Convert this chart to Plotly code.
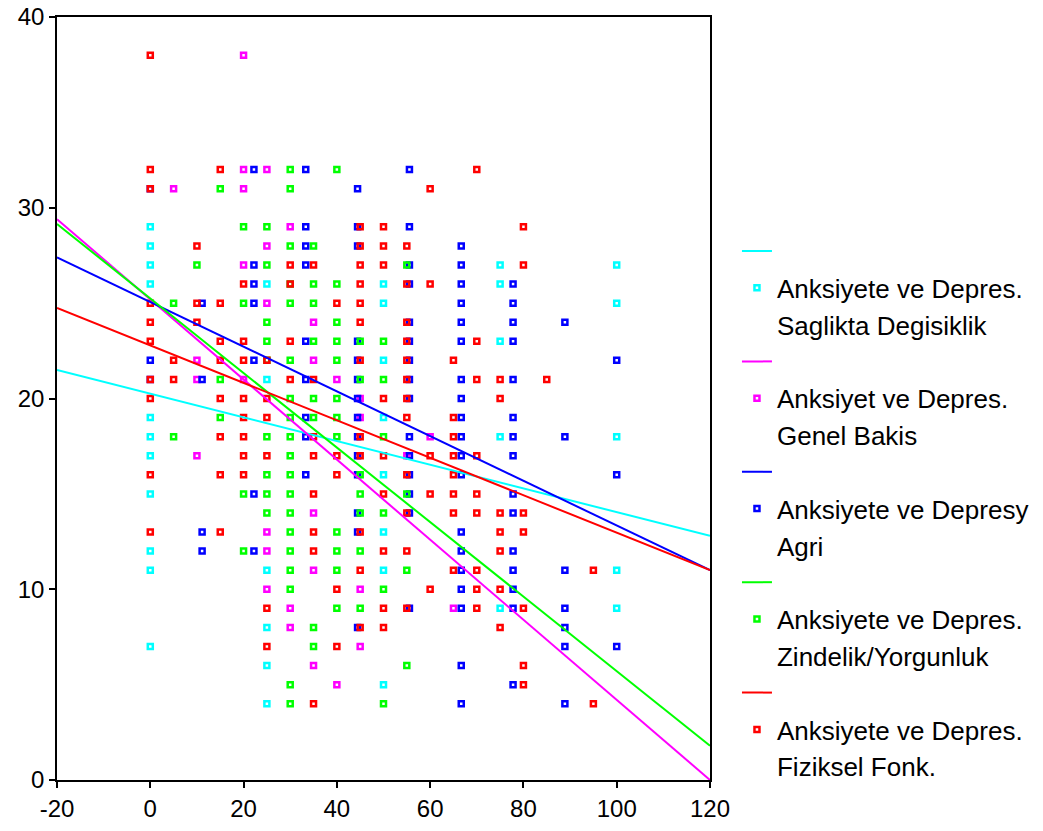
import plotly.graph_objects as go

# ---------------- data ----------------
x_range = [-20, 120]
y_range = [0, 40]
x_ticks = [-20, 0, 20, 40, 60, 80, 100, 120]
x_tick_labels = ["-20", "0", "20", "40", "60", "80", "100", "120"]
y_ticks = [0, 10, 20, 30, 40]
y_tick_labels = ["0", "10", "20", "30", "40"]

series_names_1 = ["Anksiyete ve Depres.", "Anksiyet ve Depres.", "Anksiyete ve Depresy",
                  "Anksiyete ve Depres.", "Anksiyete ve Depres."]
series_names_2 = ["Saglikta Degisiklik", "Genel Bakis", "Agri",
                  "Zindelik/Yorgunluk", "Fiziksel Fonk."]
series_colors = ["#00FFFF", "#FF00FF", "#0000FF", "#00FF00", "#FF0000"]

# points: x value -> list of y values
saglik_points = {
    0: [7, 11, 12, 15, 17, 18, 19, 26, 27, 28, 29],
    25: [4, 6, 8, 11, 21, 26],
    50: [5, 11, 13, 16, 19, 22, 25, 26],
    75: [9, 18, 23, 26, 27],
    100: [9, 11, 18, 25, 27],
}
genel_points = {
    5: [31],
    10: [17, 21, 22],
    20: [21, 27, 31, 32, 38],
    25: [10, 12, 13, 25, 28, 32],
    30: [8, 9, 29],
    35: [6, 11, 14, 22, 24],
    40: [5, 21],
    45: [7, 10, 19, 20],
    55: [17],
    60: [18],
    65: [9],
}
agri_points = {
    0: [21, 22, 31],
    11.11: [12, 13, 21, 25],
    22.22: [12, 15, 22, 25, 26, 27, 32],
    33.33: [16, 18, 19, 21, 23, 27, 28, 29, 32],
    44.44: [8, 13, 14, 16, 17, 18, 19, 20, 21, 22, 23, 28, 29, 31],
    55.56: [9, 14, 15, 16, 17, 18, 20, 21, 22, 23, 24, 26, 27, 29, 32],
    66.67: [4, 6, 9, 10, 11, 12, 13, 16, 17, 18, 19, 20, 21, 23, 24, 25, 26, 27, 28],
    77.78: [5, 9, 10, 11, 12, 14, 15, 17, 18, 19, 21, 23, 24, 25, 26],
    88.89: [4, 7, 8, 9, 11, 18, 24],
    100: [7, 16, 22],
}
zindelik_points = {
    5: [18, 25],
    10: [27],
    15: [19, 21, 31],
    20: [12, 15, 25, 29],
    25: [14, 15, 16, 18, 22, 23, 24, 27, 29],
    30: [4, 5, 10, 11, 12, 13, 14, 15, 16, 17, 18, 19, 20, 22, 25, 26, 28, 31, 32],
    35: [7, 8, 19, 20, 23, 25, 26, 28],
    40: [9, 11, 12, 13, 18, 19, 20, 22, 23, 24, 26, 32],
    45: [9, 12, 14, 15, 16, 21, 23],
    50: [4, 10, 14, 18, 21, 23],
    55: [6, 11, 15, 27],
}
fiziksel_points = {
    0: [13, 16, 20, 21, 23, 24, 25, 31, 32, 38],
    5: [21, 22],
    10: [24, 25, 28],
    15: [13, 16, 18, 20, 22, 23, 25, 32],
    20: [16, 17, 18, 19, 20, 22, 23, 26],
    25: [7, 9, 17, 19, 20, 22],
    30: [21, 23, 26, 27],
    35: [4, 12, 13, 15, 17, 18, 21, 27],
    40: [7, 10, 16, 17, 25],
    45: [8, 11, 13, 17, 18, 22, 24, 25, 26, 27, 28, 29],
    50: [8, 9, 12, 15, 17, 20, 27, 28, 29],
    55: [9, 12, 14, 16, 19, 20, 21, 22, 23, 24, 26, 28],
    60: [10, 15, 17, 26, 31],
    65: [11, 14, 15, 16, 17, 18, 19, 22],
    70: [9, 10, 11, 14, 15, 17, 21, 23, 32],
    75: [8, 10, 12, 13, 14, 20, 21],
    80: [5, 6, 9, 13, 14, 27, 29],
    85: [21],
    95: [4, 11],
}
series_points = [saglik_points, genel_points, agri_points, zindelik_points, fiziksel_points]

# regression lines: value at x=-20 and at x=120
line_x = [-20, 120]
line_start = [21.5, 29.4, 27.4, 29.15, 24.75]
line_end = [12.8, 0.0, 11.0, 1.8, 11.0]

# ---------------- figure ----------------
fig = go.Figure()
FONT = "Liberation Sans, Arial, Helvetica, sans-serif"

# scatter points (drawn first, under lines)
for i, pts in enumerate(series_points):
    xs, ys = [], []
    for xv, yl in pts.items():
        for yv in yl:
            xs.append(xv)
            ys.append(yv)
    fig.add_trace(go.Scatter(
        x=xs, y=ys, mode="markers", name=series_names_1[i],
        marker=dict(symbol="square-open", size=5, color=series_colors[i],
                    line=dict(width=2.5, color=series_colors[i])),
        legendgroup=f"m{i}", legendrank=100 + i * 3 + 1, hoverinfo="x+y",
    ))

# regression lines (on top)
for i in range(5):
    fig.add_trace(go.Scatter(
        x=line_x, y=[line_start[i], line_end[i]], mode="lines", name=" ",
        line=dict(color=series_colors[i], width=2),
        legendgroup=f"l{i}", legendrank=100 + i * 3,
    ))

# second text line of each legend entry
for i in range(5):
    fig.add_trace(go.Scatter(
        x=[None], y=[None], mode="markers", name=series_names_2[i],
        marker=dict(color="rgba(0,0,0,0)", size=1),
        legendgroup=f"t{i}", legendrank=100 + i * 3 + 2, hoverinfo="skip",
    ))

axis_common = dict(
    showline=True, linecolor="black", linewidth=1.5, mirror=True,
    ticks="outside", ticklen=6, tickwidth=1.5, tickcolor="black",
    showgrid=False, zeroline=False, automargin=False,
    tickfont=dict(family=FONT, size=24, color="black"),
)
fig.update_xaxes(range=x_range, tickvals=x_ticks, ticktext=x_tick_labels, **axis_common)
fig.update_yaxes(range=y_range, tickvals=y_ticks, ticktext=y_tick_labels, **axis_common)

fig.update_layout(
    template="none",
    width=1043, height=831,
    margin=dict(l=57, r=333, t=17, b=51, autoexpand=False),
    plot_bgcolor="white", paper_bgcolor="white",
    font=dict(family=FONT, size=24, color="black"),
    showlegend=True,
    legend=dict(
        x=1.0413, xanchor="left", y=0.724, yanchor="top",
        traceorder="grouped", tracegroupgap=0,
        font=dict(family=FONT, size=26, color="black"),
        bgcolor="rgba(0,0,0,0)", borderwidth=0, itemwidth=30,
    ),
)

fig.write_html("out.html", config={"displayModeBar": False},
               post_script="document.body.style.margin='0';")
